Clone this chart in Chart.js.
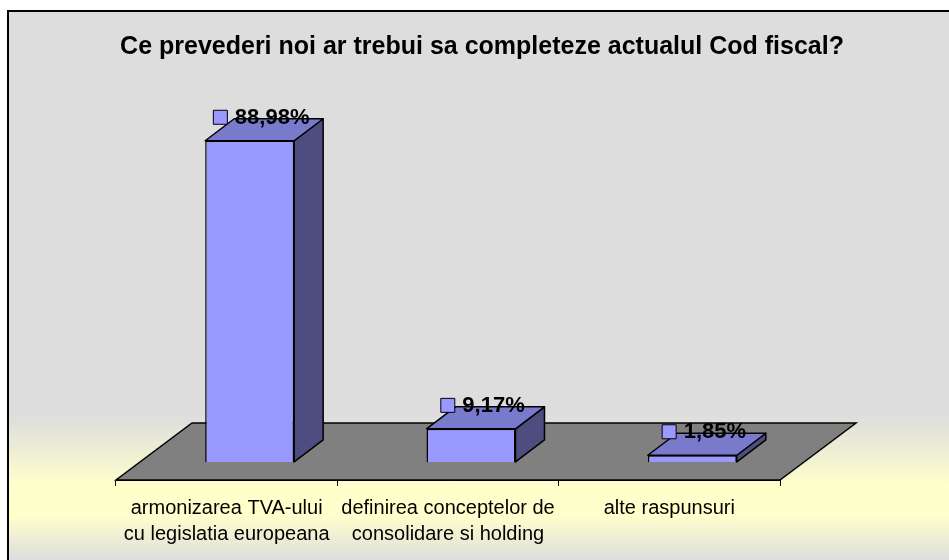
<!DOCTYPE html>
<html>
<head>
<meta charset="utf-8">
<script src="https://cdn.jsdelivr.net/npm/chart.js@4/dist/chart.umd.min.js"></script>
<style>
html, body { margin: 0; padding: 0; background: #fff; }
</style>
</head>
<body>
<canvas id="chart" width="949" height="560"></canvas>
<script>
// data
var chartTitle = 'Ce prevederi noi ar trebui sa completeze actualul Cod fiscal?';
var categories = [
    ['armonizarea TVA-ului', 'cu legislatia europeana'],
    ['definirea conceptelor de', 'consolidare si holding'],
    ['alte raspunsuri']
];
var values = [88.98, 9.17, 1.85];

var fontFamily = '"Liberation Sans", Arial, sans-serif';

// 3d look: floor depth, bar depth and how far bars sit back from the floor edge
var depth = { floorX: 76, floorY: 57, barX: 29, barY: 22, shift: 23 };

function fmt(v) {
    return v.toFixed(2).replace('.', ',') + '%';
}

var box3d = {
    id: 'box3d',
    beforeDraw: function (chart) {
        var ctx = chart.ctx, w = chart.width, h = chart.height;
        var g = ctx.createLinearGradient(0, 0, 0, h);
        g.addColorStop(0, '#dddddd');
        g.addColorStop(0.74, '#dddddd');
        g.addColorStop(0.87, '#ffffcc');
        g.addColorStop(0.92, '#ffffcc');
        g.addColorStop(1, '#dddddd');
        ctx.save();
        ctx.fillStyle = '#ffffff';
        ctx.fillRect(0, 0, w, h);
        ctx.fillStyle = g;
        ctx.fillRect(8, 11, w, h);
        ctx.strokeStyle = '#000';
        ctx.lineWidth = 2;
        ctx.strokeRect(8, 11, w + 20, h + 20);
        ctx.restore();
    },
    beforeDatasetsDraw: function (chart) {
        var a = chart.chartArea, ctx = chart.ctx;
        ctx.save();
        ctx.beginPath();
        ctx.moveTo(a.left, a.bottom);
        ctx.lineTo(a.right, a.bottom);
        ctx.lineTo(a.right + depth.floorX, a.bottom - depth.floorY);
        ctx.lineTo(a.left + depth.floorX, a.bottom - depth.floorY);
        ctx.closePath();
        ctx.fillStyle = '#808080';
        ctx.fill();
        ctx.strokeStyle = '#000';
        ctx.lineWidth = 1.5;
        ctx.stroke();
        ctx.restore();
        // front faces are drawn by chart.js, pushed back onto the floor
        ctx.save();
        ctx.translate(depth.shift, 0);
    },
    afterDatasetsDraw: function (chart) {
        var ctx = chart.ctx;
        ctx.restore();
        var meta = chart.getDatasetMeta(0);
        var dx = depth.barX, dy = depth.barY;
        meta.data.forEach(function (el, i) {
            var p = el.getProps(['x', 'y', 'base', 'width'], true);
            var left = p.x - p.width / 2 + depth.shift;
            var right = p.x + p.width / 2 + depth.shift;
            var top = p.y, bottom = p.base;
            ctx.save();
            ctx.strokeStyle = '#000';
            ctx.lineWidth = 1.5;
            ctx.lineJoin = 'round';
            // side
            ctx.beginPath();
            ctx.moveTo(right, top);
            ctx.lineTo(right + dx, top - dy);
            ctx.lineTo(right + dx, bottom - dy);
            ctx.lineTo(right, bottom);
            ctx.closePath();
            ctx.fillStyle = '#4d4d80';
            ctx.fill();
            ctx.stroke();
            // top
            ctx.beginPath();
            ctx.moveTo(left, top);
            ctx.lineTo(left + dx, top - dy);
            ctx.lineTo(right + dx, top - dy);
            ctx.lineTo(right, top);
            ctx.closePath();
            ctx.fillStyle = '#7a7acc';
            ctx.fill();
            ctx.stroke();

            // value label with legend key
            var txt = fmt(values[i]);
            ctx.font = 'bold 22px ' + fontFamily;
            var tw = ctx.measureText(txt).width;
            var gw = 14 + 8 + tw;
            var cx = p.x + depth.shift + dx / 2 - 3;
            var sx = cx - gw / 2;
            var ly = top - dy - 2;
            ctx.lineWidth = 1;
            ctx.fillStyle = '#9999ff';
            ctx.fillRect(sx + 0.5, ly - 7 + 0.5, 14, 14);
            ctx.strokeRect(sx + 0.5, ly - 7 + 0.5, 14, 14);
            ctx.fillStyle = '#000';
            ctx.textBaseline = 'middle';
            ctx.textAlign = 'left';
            ctx.fillText(txt, sx + 22, ly + 1);
            ctx.restore();
        });
    }
};

new Chart(document.getElementById('chart'), {
    type: 'bar',
    data: {
        labels: categories,
        datasets: [{
            data: values,
            backgroundColor: '#9999ff',
            borderColor: '#000',
            borderWidth: 1.5,
            barPercentage: 0.402,
            categoryPercentage: 1
        }]
    },
    options: {
        responsive: false,
        animation: false,
        layout: { padding: { left: 15, right: 0, top: 0, bottom: 4 } },
        plugins: {
            legend: { display: false },
            tooltip: { enabled: false },
            title: {
                display: true,
                text: chartTitle,
                color: '#000',
                font: { family: fontFamily, size: 25, weight: 'bold', lineHeight: 1.2 },
                padding: { top: 32, bottom: 39 }
            }
        },
        scales: {
            x: {
                grid: { display: true, drawOnChartArea: false, drawTicks: true, tickLength: 6, color: '#000', offset: true },
                border: { display: true, color: '#000' },
                ticks: {
                    color: '#000',
                    font: { family: fontFamily, size: 20, lineHeight: 1.3 },
                    padding: 9,
                    maxRotation: 0,
                    autoSkip: false
                }
            },
            y: {
                min: -5,
                max: 100,
                grid: { display: false },
                border: { display: false },
                ticks: { display: false },
                afterFit: function (s) { s.width = 101; }
            },
            y2: {
                type: 'linear',
                position: 'right',
                grid: { display: false },
                border: { display: false },
                ticks: { display: false },
                afterFit: function (s) { s.width = 169; }
            }
        }
    },
    plugins: [box3d]
});
</script>
</body>
</html>
